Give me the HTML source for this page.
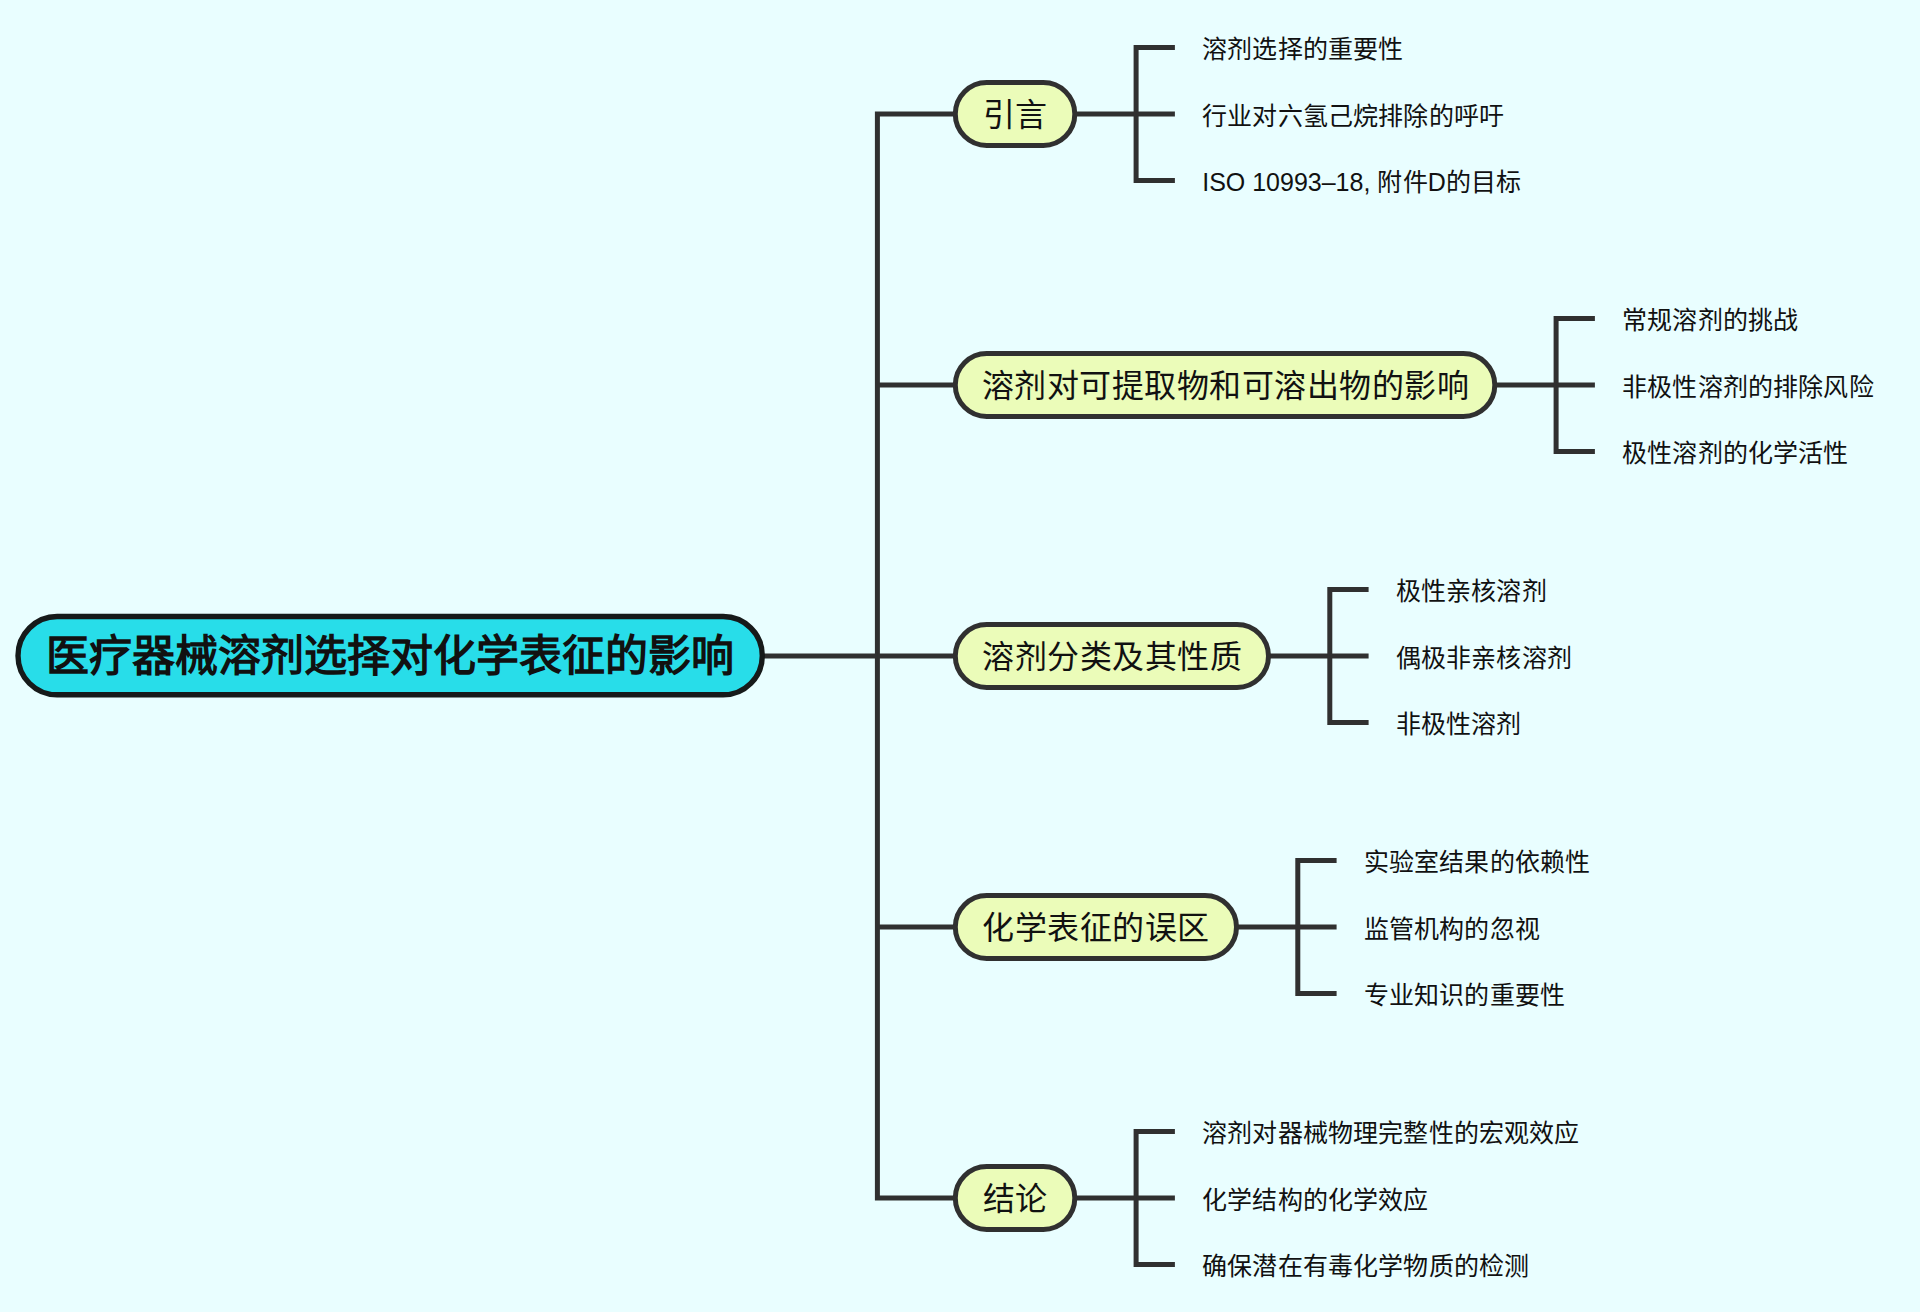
<!DOCTYPE html>
<html lang="zh-CN"><head><meta charset="utf-8"><title>mind map</title>
<style>
html,body{margin:0;padding:0;}
body{width:1920px;height:1312px;background:#e9feff;position:relative;overflow:hidden;font-family:"Liberation Sans",sans-serif;color:#111111;}
svg{position:absolute;left:0;top:0;}
.c,.r,.f{position:absolute;white-space:nowrap;}
.c{font-size:32px;letter-spacing:0.5px;text-indent:0.5px;display:flex;align-items:center;justify-content:center;line-height:1;}
.r{font-size:43px;font-weight:bold;display:flex;align-items:center;justify-content:center;line-height:1;}
.f{font-size:25px;letter-spacing:0.15px;line-height:40px;height:40px;}
</style></head><body>
<svg width="1920" height="1312" viewBox="0 0 1920 1312">
<path d="M762 656H877.4" fill="none" stroke="#303030" stroke-width="5" stroke-linejoin="miter" stroke-linecap="butt"/>
<path d="M955.8 114H877.4V1198H955.8" fill="none" stroke="#303030" stroke-width="5" stroke-linejoin="miter" stroke-linecap="butt"/>
<path d="M1074.3 114H1136.1" fill="none" stroke="#303030" stroke-width="5" stroke-linejoin="miter" stroke-linecap="butt"/>
<path d="M1174.9 47.5H1136.1V180.5H1174.9" fill="none" stroke="#303030" stroke-width="5" stroke-linejoin="miter" stroke-linecap="butt"/>
<path d="M1136.1 114H1174.9" fill="none" stroke="#303030" stroke-width="5" stroke-linejoin="miter" stroke-linecap="butt"/>
<rect x="955.3" y="82.5" width="119.5" height="63" rx="31.5" fill="#ebfcb9" stroke="#303030" stroke-width="5"/>
<path d="M877.4 385H955.8" fill="none" stroke="#303030" stroke-width="5" stroke-linejoin="miter" stroke-linecap="butt"/>
<path d="M1494.3 385H1556.1" fill="none" stroke="#303030" stroke-width="5" stroke-linejoin="miter" stroke-linecap="butt"/>
<path d="M1594.9 318.5H1556.1V451.5H1594.9" fill="none" stroke="#303030" stroke-width="5" stroke-linejoin="miter" stroke-linecap="butt"/>
<path d="M1556.1 385H1594.9" fill="none" stroke="#303030" stroke-width="5" stroke-linejoin="miter" stroke-linecap="butt"/>
<rect x="955.3" y="353.5" width="539.5" height="63" rx="31.5" fill="#ebfcb9" stroke="#303030" stroke-width="5"/>
<path d="M877.4 656H955.8" fill="none" stroke="#303030" stroke-width="5" stroke-linejoin="miter" stroke-linecap="butt"/>
<path d="M1268 656H1329.8" fill="none" stroke="#303030" stroke-width="5" stroke-linejoin="miter" stroke-linecap="butt"/>
<path d="M1368.6 589.5H1329.8V722.5H1368.6" fill="none" stroke="#303030" stroke-width="5" stroke-linejoin="miter" stroke-linecap="butt"/>
<path d="M1329.8 656H1368.6" fill="none" stroke="#303030" stroke-width="5" stroke-linejoin="miter" stroke-linecap="butt"/>
<rect x="955.3" y="624.5" width="313.2" height="63" rx="31.5" fill="#ebfcb9" stroke="#303030" stroke-width="5"/>
<path d="M877.4 927H955.8" fill="none" stroke="#303030" stroke-width="5" stroke-linejoin="miter" stroke-linecap="butt"/>
<path d="M1236 927H1297.8" fill="none" stroke="#303030" stroke-width="5" stroke-linejoin="miter" stroke-linecap="butt"/>
<path d="M1336.6 860.5H1297.8V993.5H1336.6" fill="none" stroke="#303030" stroke-width="5" stroke-linejoin="miter" stroke-linecap="butt"/>
<path d="M1297.8 927H1336.6" fill="none" stroke="#303030" stroke-width="5" stroke-linejoin="miter" stroke-linecap="butt"/>
<rect x="955.3" y="895.5" width="281.2" height="63" rx="31.5" fill="#ebfcb9" stroke="#303030" stroke-width="5"/>
<path d="M1074.3 1198H1136.1" fill="none" stroke="#303030" stroke-width="5" stroke-linejoin="miter" stroke-linecap="butt"/>
<path d="M1174.9 1131.5H1136.1V1264.5H1174.9" fill="none" stroke="#303030" stroke-width="5" stroke-linejoin="miter" stroke-linecap="butt"/>
<path d="M1136.1 1198H1174.9" fill="none" stroke="#303030" stroke-width="5" stroke-linejoin="miter" stroke-linecap="butt"/>
<rect x="955.3" y="1166.5" width="119.5" height="63" rx="31.5" fill="#ebfcb9" stroke="#303030" stroke-width="5"/>
<rect x="18.00" y="616.50" width="744.30" height="78.30" rx="39.15" fill="#28dde9" stroke="#161a1a" stroke-width="5.4"/>
</svg>
<div class="c" style="left:952.8px;top:81.00px;width:124.5px;height:68px">引言</div>
<div class="f" style="left:1202.20px;top:29.00px">溶剂选择的重要性</div>
<div class="f" style="left:1202.20px;top:95.50px">行业对六氢己烷排除的呼吁</div>
<div class="f" style="left:1202.20px;top:162.00px"><span style="letter-spacing:0">ISO 10993–18,</span> 附件D的目标</div>
<div class="c" style="left:952.8px;top:352.00px;width:544.5px;height:68px">溶剂对可提取物和可溶出物的影响</div>
<div class="f" style="left:1622.20px;top:300.00px">常规溶剂的挑战</div>
<div class="f" style="left:1622.20px;top:366.50px">非极性溶剂的排除风险</div>
<div class="f" style="left:1622.20px;top:433.00px">极性溶剂的化学活性</div>
<div class="c" style="left:952.8px;top:623.00px;width:318.2px;height:68px">溶剂分类及其性质</div>
<div class="f" style="left:1395.90px;top:571.00px">极性亲核溶剂</div>
<div class="f" style="left:1395.90px;top:637.50px">偶极非亲核溶剂</div>
<div class="f" style="left:1395.90px;top:704.00px">非极性溶剂</div>
<div class="c" style="left:952.8px;top:894.00px;width:286.2px;height:68px">化学表征的误区</div>
<div class="f" style="left:1363.90px;top:842.00px">实验室结果的依赖性</div>
<div class="f" style="left:1363.90px;top:908.50px">监管机构的忽视</div>
<div class="f" style="left:1363.90px;top:975.00px">专业知识的重要性</div>
<div class="c" style="left:952.8px;top:1165.00px;width:124.5px;height:68px">结论</div>
<div class="f" style="left:1202.20px;top:1113.00px">溶剂对器械物理完整性的宏观效应</div>
<div class="f" style="left:1202.20px;top:1179.50px">化学结构的化学效应</div>
<div class="f" style="left:1202.20px;top:1246.00px">确保潜在有毒化学物质的检测</div>
<div class="r" style="left:15.3px;top:614.8px;width:749.7px;height:83.70000000000005px">医疗器械溶剂选择对化学表征的影响</div>
</body></html>
